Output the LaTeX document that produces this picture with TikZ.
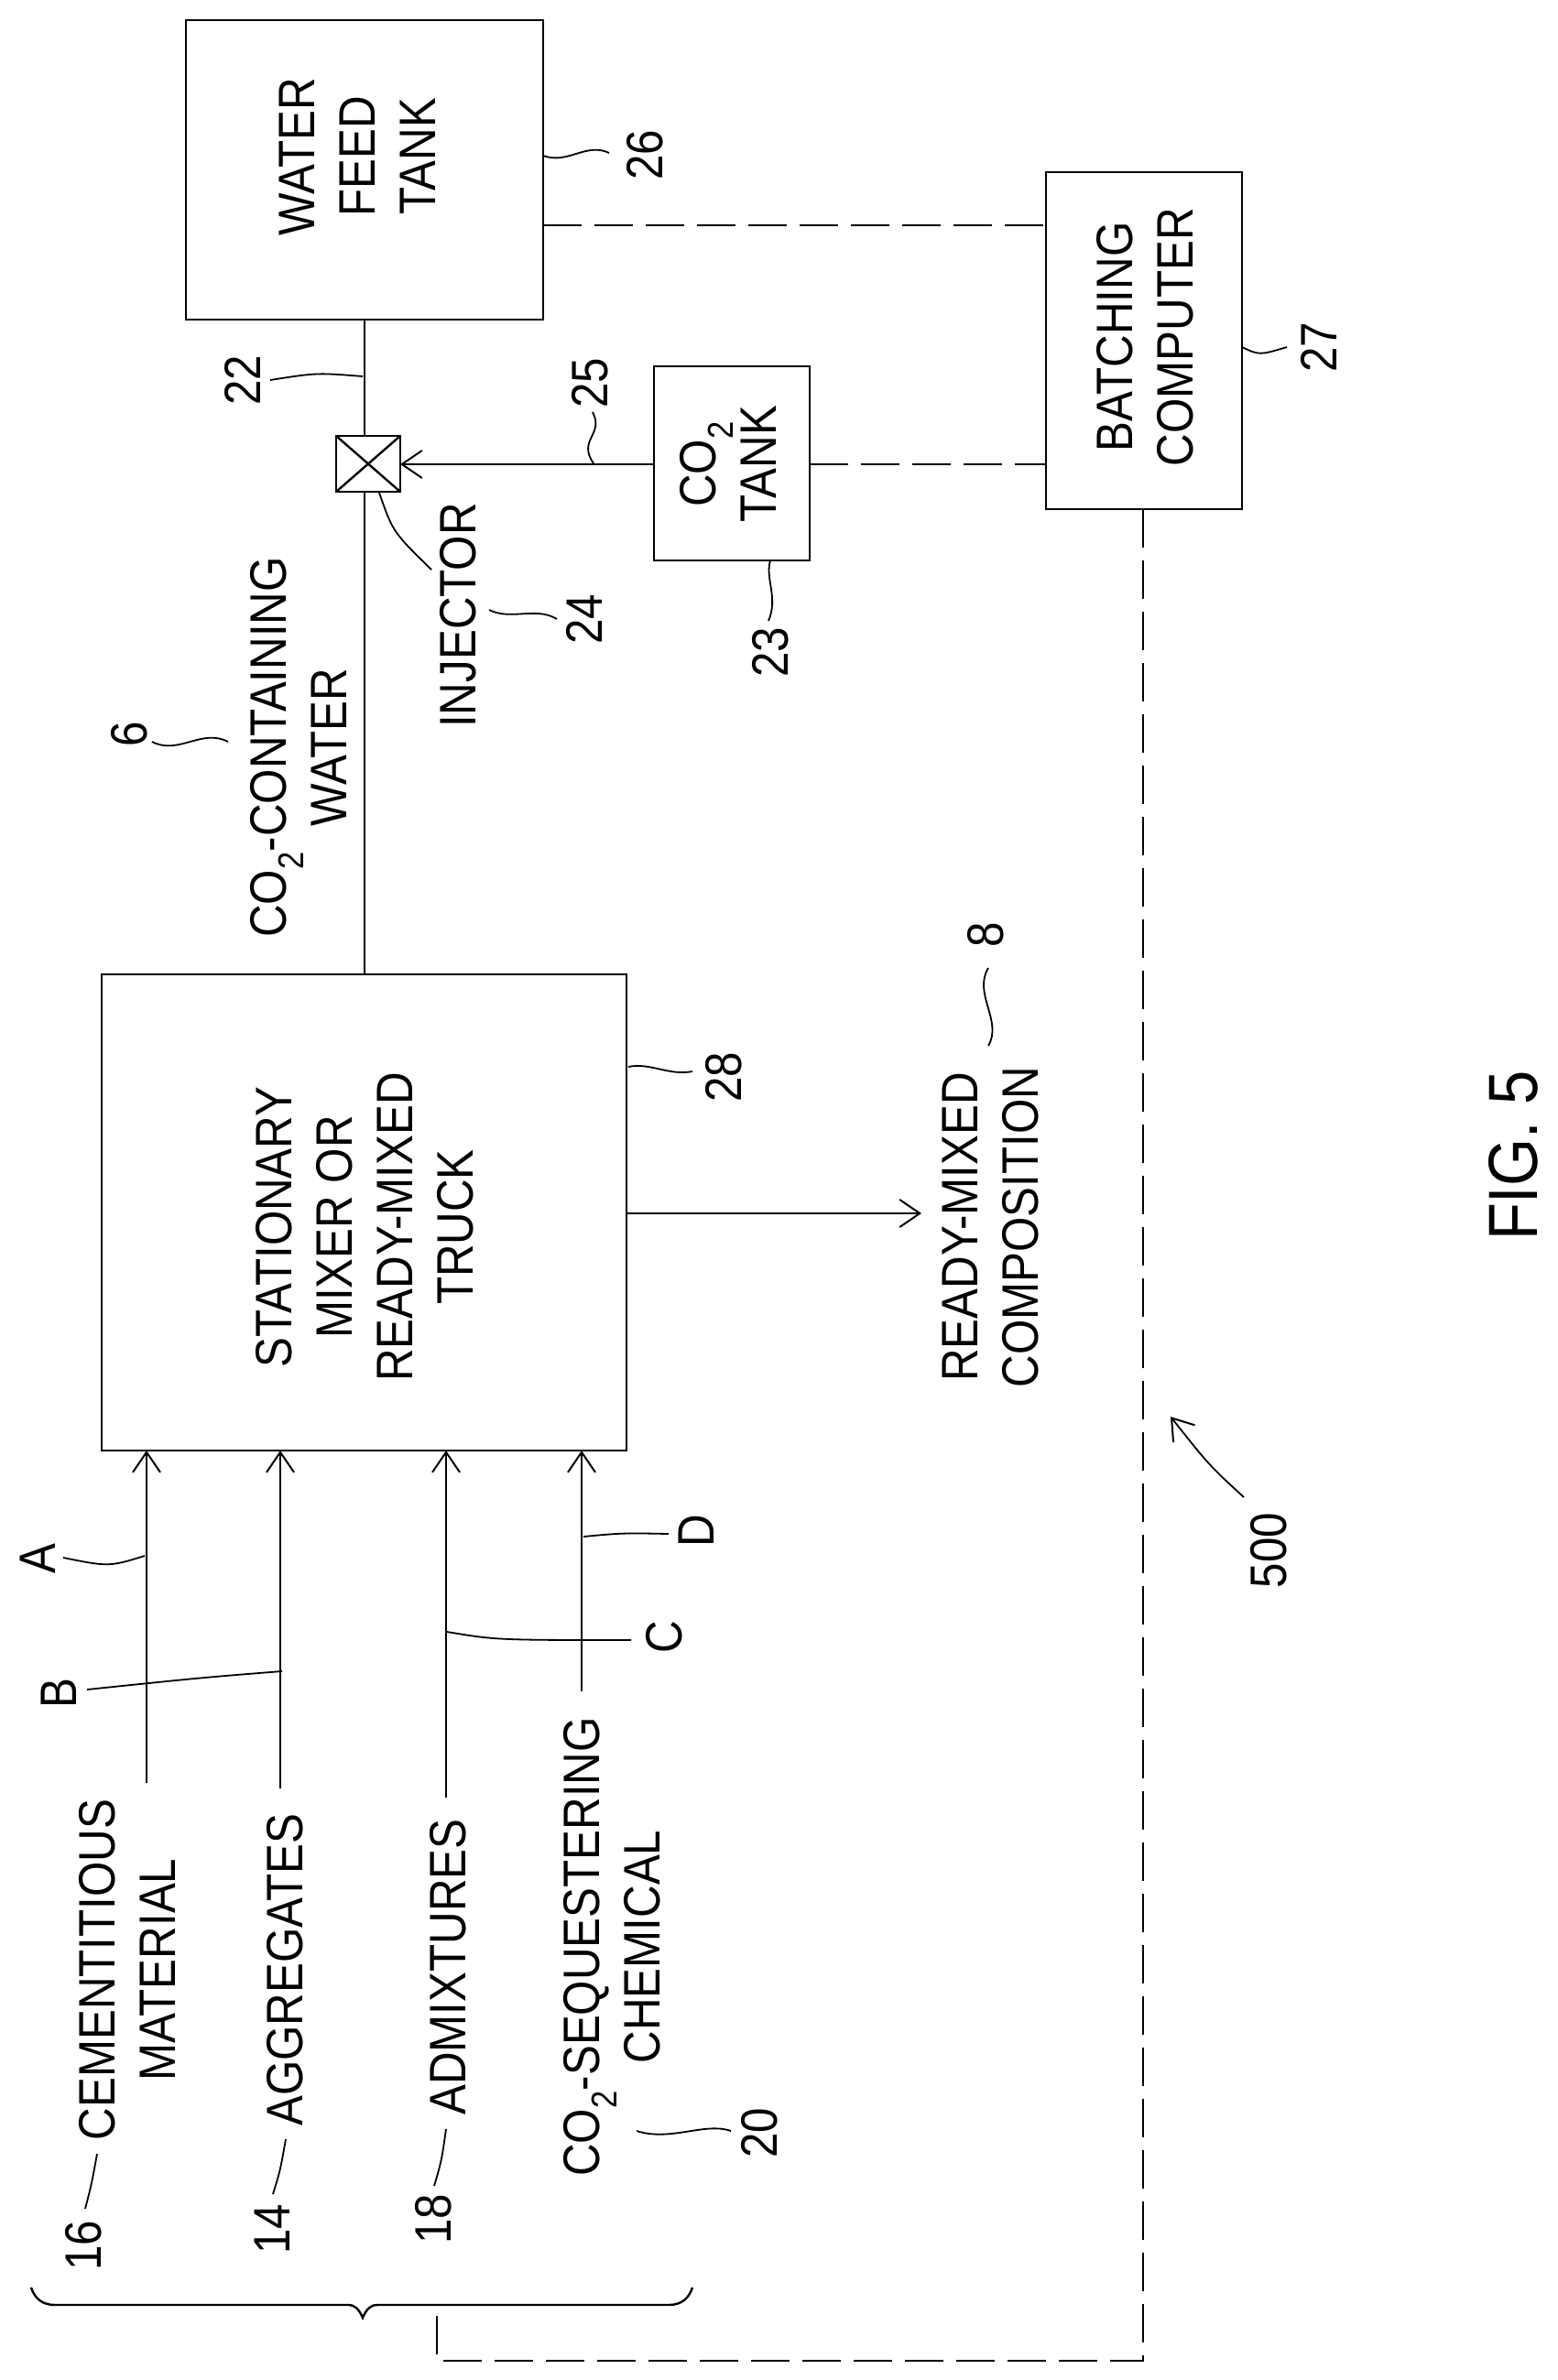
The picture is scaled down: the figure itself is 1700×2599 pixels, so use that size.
\documentclass[tikz,border=0pt]{standalone}
\usepackage{fontspec}
\setmainfont[FakeStretch=0.88]{Liberation Sans}
\usetikzlibrary{arrows.meta}
\tikzset{
 x=1pt,y=-1pt,
 line/.style={line width=2.4pt},
 thin leader/.style={line width=1.8pt},
 dashline/.style={line width=2pt,dash pattern=on 42pt off 14pt},
 box/.style={draw,line width=2.4pt,minimum width=0pt,inner sep=0pt},
 txt/.style={font=\fontsize{56}{66}\selectfont,rotate=90,align=center,inner sep=0pt},
 arr/.style={-{Straight Barb[length=22pt,width=30pt,line width=2pt]}},
}
\newcommand{\cotwo}{CO\textsubscript{2}}
\begin{document}
\begin{tikzpicture}
\useasboundingbox (0,0) rectangle (1700,2599);
\fill[white] (0,0) rectangle (1700,2599);
% boxes
\path[box,draw] (203,22) rectangle (593,349);
\coordinate (wt) at (398,349);
\node[txt] (watertank) at (390,171) {WATER\\FEED\\TANK};
\path[box,draw] (1142,188) rectangle (1356,556);
\node[txt] (batch) at (1250,368) {BATCHING\\COMPUTER};
\path[box,draw] (714,400) rectangle (884,612);
\node[txt] (co2tank) at (795,507) {\cotwo\\TANK};
\path[box,draw] (111,1064) rectangle (684,1584);
\node[txt] (mixer) at (398,1340) {STATIONARY\\MIXER OR\\READY-MIXED\\TRUCK};
\path[box,draw] (367,476) rectangle (437,537);
\draw[line] (367,476) -- (437,537) (367,537) -- (437,476);
% texts
\node[txt] (cw) at (326,816) {\cotwo-CONTAINING\\WATER};
\node[txt] (inj) at (500,672) {INJECTOR};
\node[txt] (rm) at (1081,1340) {READY-MIXED\\COMPOSITION};
\node[txt] (cem) at (139,2151) {CEMENTITIOUS\\MATERIAL};
\node[txt] (agg) at (311,2151) {AGGREGATES};
\node[txt] (adm) at (489,2148) {ADMIXTURES};
\node[txt] (seq) at (668,2126) {\cotwo-SEQUESTERING\\CHEMICAL};
\node[txt] at (91,2452) {16};
\node[txt] at (297,2434) {14};
\node[txt] at (473,2423) {18};
\node[txt] at (829,2329) {20};
\node[txt] at (41,1702) {A};
\node[txt] at (64,1849) {B};
\node[txt] at (725,1788) {C};
\node[txt] at (760,1672) {D};
\node[txt] at (265,415) {22};
\node[txt] at (644,418) {25};
\node[txt] at (638,676) {24};
\node[txt] at (841,712) {23};
\node[txt] at (141,802) {6};
\node[txt] at (704,169) {26};
\node[txt] at (1440,379) {27};
\node[txt] at (790,1176) {28};
\node[txt] at (1076,1021) {8};
\node[txt] at (1385,1693) {500};
\node[txt,font=\fontsize{76}{76}\selectfont] at (1652,1262) {FIG. 5};
% connectors
\draw[line] (398,349) -- (398,476);
\draw[line] (398,537) -- (398,1064);
\draw[line,arr] (714,507) -- (437,507);
\draw[line,arr] (684,1325) -- (1006,1325);
\draw[line,arr] (160,1947) -- (160,1584);
\draw[line,arr] (306,1953) -- (306,1584);
\draw[line,arr] (487,1963) -- (487,1584);
\draw[line,arr] (635,1847) -- (635,1584);
\draw[dashline] (593,246) -- (1142,246);
\draw[dashline] (884,507) -- (1142,507);
\draw[dashline] (1248,556) -- (1248,2578) -- (477,2578) -- (477,2517);
% brace
\draw[line] (34,2498) .. controls (38,2510) and (46,2517) .. (60,2517) -- (380,2517)
  .. controls (388,2517) and (392,2522) .. (396,2531)
  .. controls (400,2522) and (404,2517) .. (412,2517) -- (730,2517)
  .. controls (744,2517) and (752,2510) .. (756,2498);
% leaders
\draw[thin leader] (69,1701) .. controls (119,1711) .. (158,1699);
\draw[thin leader] (95,1845) .. controls (220,1832) .. (308,1825);
\draw[thin leader] (488,1782) .. controls (542,1791) .. (689,1791);
\draw[thin leader] (637,1678) .. controls (680,1674) .. (730,1675);
\draw[thin leader] (93,2412) .. controls (100,2385) .. (106,2352);
\draw[thin leader] (298,2396) .. controls (306,2370) .. (312,2336);
\draw[thin leader] (474,2387) .. controls (482,2360) .. (487,2325);
\draw[thin leader] (695,2327) .. controls (732,2339) and (770,2317) .. (798,2327);
\draw[thin leader] (295,415) .. controls (346,407) .. (396,411);
\draw[thin leader] (647,450) .. controls (660,475) and (630,480) .. (648,506);
\draw[thin leader] (534,666) .. controls (558,678) and (585,662) .. (608,676);
\draw[thin leader] (414,538) .. controls (429,581) .. (471,622);
\draw[thin leader] (841,612) .. controls (835,632) and (850,652) .. (839,678);
\draw[thin leader] (166,810) .. controls (195,825) and (220,795) .. (249,810);
\draw[thin leader] (593,170) .. controls (620,180) and (640,155) .. (665,167);
\draw[thin leader] (1356,379) .. controls (1375,388) .. (1405,379);
\draw[thin leader] (686,1165) .. controls (710,1160) and (730,1175) .. (756,1170);
\draw[thin leader] (1079,1142) .. controls (1095,1115) and (1062,1085) .. (1079,1057);
\draw[thin leader,arr] (1358,1635) .. controls (1320,1600) .. (1278,1547);
\end{tikzpicture}
\end{document}
